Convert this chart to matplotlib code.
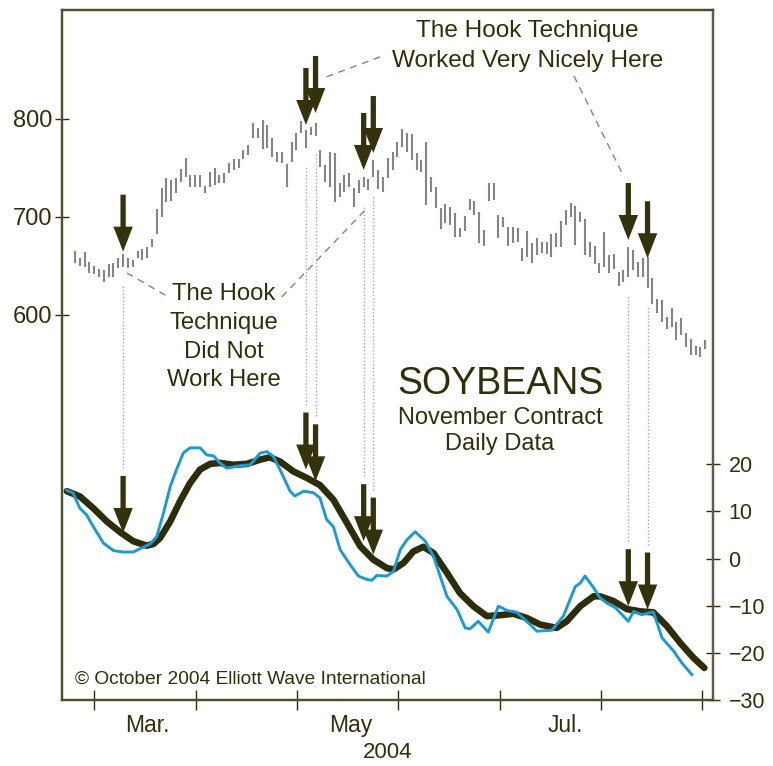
import numpy as np
import matplotlib
matplotlib.use("Agg")
import matplotlib.pyplot as plt

plt.rcParams['font.family'] = ['Liberation Sans', 'DejaVu Sans']

# ---------------- data ----------------
price_high = [665.3, 657.8, 664.0, 653.8, 650.4, 646.6, 646.0, 652.0, 652.7, 657.8,
              662.3, 657.8, 656.0, 665.0, 667.0, 669.0, 677.6, 708.2, 729.3, 739.5,
              737.8, 739.5, 749.0, 760.6, 742.9, 742.9, 742.9, 732.0, 746.3, 749.7,
              742.9, 744.6, 754.8, 759.2, 759.2, 768.4, 773.5, 795.6, 790.5, 799.0,
              793.9, 780.3, 766.7, 766.7, 754.1, 776.2, 785.4, 798.3, 788.8, 792.2,
              795.6, 768.4, 753.1, 766.7, 765.0, 734.4, 742.9, 744.6, 729.3, 737.8,
              740.5, 738.5, 758.2, 748.0, 741.2, 759.9, 766.7, 776.9, 789.5, 785.4,
              784.4, 765.0, 758.2, 776.2, 741.2, 731.0, 708.9, 713.0, 710.6, 704.4,
              688.5, 701.0, 718.0, 716.3, 705.5, 686.8, 734.4, 734.4, 702.1, 700.4,
              690.2, 689.5, 689.1, 668.7, 686.1, 673.2, 678.9, 674.9, 674.2, 682.7,
              684.0, 696.3, 707.2, 714.0, 711.2, 704.8, 697.6, 674.9, 670.4, 652.7,
              685.1, 661.3, 662.3, 644.2, 645.9, 669.8, 666.4, 654.4, 657.9, 659.5,
              637.5, 616.0, 615.3, 598.3, 606.8, 593.2, 596.6, 581.3, 575.2, 568.4,
              567.7, 574.5]
price_low = [652.7, 650.0, 648.7, 643.2, 641.5, 638.5, 633.7, 639.1, 638.5, 647.6,
             649.4, 647.6, 649.4, 657.8, 656.0, 657.8, 669.8, 682.7, 700.4, 715.7,
             716.3, 724.2, 736.0, 740.5, 731.0, 731.0, 731.0, 724.2, 731.0, 732.7,
             734.4, 734.4, 744.6, 748.0, 749.7, 759.2, 763.3, 780.3, 780.3, 769.0,
             770.0, 761.6, 756.5, 755.5, 731.0, 756.5, 768.4, 786.0, 770.0, 783.7,
             782.7, 751.4, 736.1, 731.0, 715.7, 720.8, 725.9, 731.0, 710.6, 724.2,
             731.0, 727.6, 740.5, 728.6, 725.9, 739.5, 748.0, 761.6, 771.8, 766.7,
             758.2, 748.0, 746.3, 712.3, 725.9, 708.9, 687.4, 693.6, 691.9, 680.0,
             679.3, 685.7, 707.2, 702.1, 673.2, 670.4, 716.3, 717.4, 678.9, 690.2,
             670.4, 673.8, 674.9, 655.1, 659.5, 653.4, 661.3, 663.0, 661.9, 659.5,
             669.8, 669.1, 691.9, 700.4, 671.5, 695.3, 661.3, 659.5, 652.1, 642.5,
             649.3, 643.2, 646.6, 629.6, 634.1, 639.1, 645.9, 639.1, 639.1, 627.2,
             611.3, 601.7, 593.2, 585.4, 588.1, 574.5, 579.6, 567.7, 559.2, 559.2,
             557.5, 565.0]

# slow (thick) oscillator line
osc_slow_days = [-1.7, 1.0, 3.8, 6.6, 9.4, 12.1, 14.9, 16.3, 17.7, 19.8, 21.8, 23.9, 26.0,
                 28.1, 30.1, 32.9, 35.7, 38.5, 40.5, 42.6, 45.4, 48.2, 50.9, 53.7, 56.5,
                 59.3, 62.0, 64.8, 66.2, 68.3, 70.3, 72.4, 74.5, 77.3, 80.0, 82.8, 85.6,
                 88.4, 91.1, 93.9, 96.7, 100.1, 102.2, 105.0, 107.8, 109.1, 111.9, 114.7,
                 117.5, 120.2, 123.0, 125.8, 128.5, 130.8]
osc_slow = [14.3, 13.2, 10.7, 7.9, 5.6, 3.7, 2.75, 3.1, 4.4, 7.9, 12.1, 16.0, 18.9,
            20.1, 20.3, 19.9, 20.1, 21.0, 21.5, 20.6, 18.5, 17.1, 15.6, 12.5, 7.6,
            2.6, -0.2, -2.0, -2.3, -0.9, 1.5, 2.5, 1.2, -3.0, -7.3, -10.1, -12.2,
            -12.0, -11.7, -12.6, -14.0, -14.7, -13.3, -10.1, -8.0, -8.0, -9.0, -10.7,
            -11.2, -11.4, -14.3, -17.9, -21.0, -23.2]

# fast (blue) oscillator line
osc_fast_days = [-1.7, -0.4, 1.0, 2.4, 3.8, 5.9, 8.0, 10.0, 12.1, 13.5, 15.6, 17.0, 18.4,
                 19.8, 21.1, 22.5, 23.9, 26.0, 27.4, 28.8, 30.1, 31.5, 34.3, 36.4, 38.5,
                 39.9, 41.2, 42.6, 44.7, 45.7, 47.5, 49.5, 50.9, 52.3, 53.7, 55.1, 57.2,
                 58.9, 60.6, 61.7, 62.7, 64.8, 66.2, 67.6, 69.0, 70.7, 72.8, 74.5, 77.3,
                 79.4, 81.1, 82.1, 83.8, 85.9, 88.0, 89.8, 91.8, 94.6, 96.0, 99.1, 101.5,
                 104.0, 105.0, 106.0, 107.8, 109.1, 110.5, 112.3, 113.7, 115.0, 116.1,
                 117.8, 120.2, 122.0, 124.4, 126.1, 128.2]
osc_fast = [14.5, 13.9, 10.7, 9.3, 6.8, 3.3, 1.7, 1.4, 1.4, 2.1, 3.1, 4.7, 9.7,
            15.3, 18.9, 22.4, 23.5, 23.5, 22.0, 21.8, 20.3, 19.2, 19.7, 19.9, 22.4,
            22.7, 21.7, 18.9, 14.3, 13.3, 14.3, 14.0, 12.9, 8.3, 6.8, 1.9, -1.3,
            -3.7, -4.4, -4.6, -3.6, -3.7, -2.7, 1.9, 4.0, 5.7, 3.7, 0.5, -8.0,
            -10.8, -14.7, -14.9, -13.3, -15.6, -10.1, -11.0, -11.4, -14.0, -15.4, -15.2, -12.2,
            -5.9, -5.2, -3.7, -6.2, -8.3, -9.4, -10.4, -11.9, -13.3, -11.2,
            -11.9, -11.3, -16.8, -19.6, -22.1, -24.6]

# hook signals (arrows)
hook_days = [10, 48, 50, 60, 62, 115, 119]
hook_price_tip = [664.6, 793.9, 806.1, 748.0, 765.3, 676.5, 657.9]
hook_osc_tip = [5.45, 18.9, 16.4, 3.7, 0.85, -10.1, -10.8]

price_ticks = [600, 700, 800]
osc_ticks = [20, 10, 0, -10, -20, -30]
month_tick_days = [4.05, 25.1, 46.2, 67.2, 88.3, 109.3, 130.4]
month_label_days = [15.0, 57.4, 102.0]
month_labels = ['Mar.', 'May', 'Jul.']

# ---------------- layout ----------------
W, H = 773, 766
fig = plt.figure(figsize=(W / 100, H / 100), dpi=100)

def fx(x):
    return x / W

def fy(y):
    return 1 - y / H

L, R, T, B = 62, 712.5, 10, 700
ax = fig.add_axes([fx(L), fy(B), (R - L) / W, (B - T) / H])
ax.set_xlim(-2.7, 132.5)
P0, P1 = 207.1, 911.2
O0, O1 = -30, 116.4
ax.set_ylim(P0, P1)
ax2 = ax.twinx()
ax2.set_ylim(O0, O1)

DARK = '#33320c'
TXT = '#2f2f0c'
frame_col = '#4e4e28'

for a in (ax, ax2):
    for s in a.spines.values():
        s.set_color(frame_col)
        s.set_linewidth(1.6)
ax2.spines['right'].set_color('#6a5846')

# price bars
ax.vlines(np.arange(len(price_high)), price_low, price_high, color='#858585', lw=1.5, zorder=2)

# oscillator
ax2.plot(osc_slow_days, osc_slow, color='#2e2d0b', lw=4.8, solid_capstyle='round',
         solid_joinstyle='round', zorder=3)
ax2.plot(osc_fast_days, osc_fast, color='#1d9ad3', lw=2.1, zorder=4)

# conversions
opx = (B - T) / (O1 - O0)  # pixel per osc unit

def price_to_osc(p):
    return O0 + (p - P0) / (P1 - P0) * (O1 - O0)

ARROW_LEN = 57 / 1.389  # points
arrow_kw = dict(width=3.8, headwidth=14, headlength=18, shrink=0, color=DARK, lw=0)
for d, tp, to in zip(hook_days, hook_price_tip, hook_osc_tip):
    ax.annotate('', xy=(d, tp), xytext=(0, ARROW_LEN), textcoords='offset points',
                arrowprops=arrow_kw, zorder=6)
    ax2.annotate('', xy=(d, to), xytext=(0, ARROW_LEN), textcoords='offset points',
                 arrowprops=arrow_kw, zorder=6)
    low = price_low[d]
    top = price_to_osc(low) - 18 / opx
    bot = to + (57 + 8) / opx
    ax2.plot([d, d], [bot, top], color='#b0a0a0', lw=1.0, ls=(0, (1, 1.5)), zorder=1)

# dashed connector lines (annotation leaders)
dash_kw = dict(color='#8a8080', lw=1.0, ls=(0, (5, 4)), zorder=1)
ax.plot([63.4, 51.6], [863.3, 841.8], **dash_kw)
ax.plot([103.7, 113.7], [843.9, 744.9], **dash_kw)
ax.plot([10.8, 19.8], [642.9, 617.3], **dash_kw)
ax.plot([43.0, 60.3], [618.4, 707.1], **dash_kw)

# ticks
ax.set_yticks(price_ticks)
ax.tick_params(axis='y', direction='inout', length=10, width=1, colors=TXT,
               labelsize=17, pad=2)
ax2.set_yticks(osc_ticks)
ax2.tick_params(axis='y', direction='inout', length=10, width=1, colors=TXT,
                labelsize=15.5, pad=6.5)
ax.set_xticks(month_tick_days)
ax.set_xticklabels([])
ax.set_xticks(month_label_days, minor=True)
ax.set_xticklabels(month_labels, minor=True)
ax.tick_params(axis='x', which='major', direction='inout', length=14, width=1, colors=TXT)
ax.tick_params(axis='x', which='minor', length=0, labelsize=16.5, pad=10, colors=TXT)
ax.set_xlabel('2004', fontsize=16, color=TXT, labelpad=4)

# texts
tk = dict(color=TXT, ha='center', va='baseline')
fig.text(fx(527.5), fy(37.5), 'The Hook Technique', fontsize=17.6, **tk)
fig.text(fx(527.5), fy(66.5), 'Worked Very Nicely Here', fontsize=17.6, **tk)
for i, s in enumerate(['The Hook', 'Technique', 'Did Not', 'Work Here']):
    fig.text(fx(224), fy(299.5 + 29 * i), s, fontsize=17.2, **tk)
fig.text(fx(500), fy(394), 'SOYBEANS', fontsize=27, **tk)
fig.text(fx(500), fy(424), 'November Contract', fontsize=17, **tk)
fig.text(fx(500), fy(450), 'Daily Data', fontsize=17, **tk)
fig.text(fx(75), fy(684), '\u00a9 October 2004 Elliott Wave International', fontsize=13.8,
         color=TXT, ha='left', va='baseline')

fig.savefig('out.png', dpi=100)
